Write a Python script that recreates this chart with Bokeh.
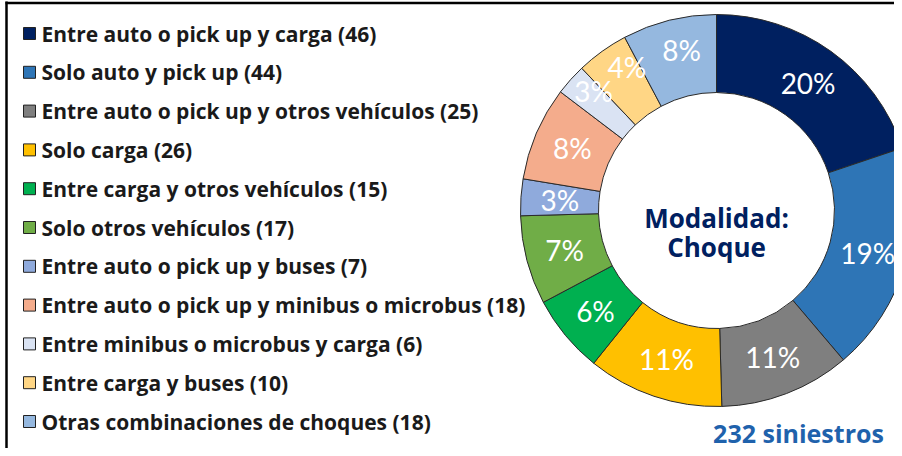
import math
from bokeh.plotting import figure
from bokeh.models import Range1d, ColumnDataSource
from bokeh.core.properties import value
from bokeh.embed import file_html
from bokeh.resources import INLINE

# ---- data ----
categories = [
    "Entre auto o pick up y carga",
    "Solo auto y pick up",
    "Entre auto o pick up y otros vehículos",
    "Solo carga",
    "Entre carga y otros vehículos",
    "Solo otros vehículos",
    "Entre auto o pick up y buses",
    "Entre auto o pick up y minibus o microbus",
    "Entre minibus o microbus y carga",
    "Entre carga y buses",
    "Otras combinaciones de choques",
]
counts = [46, 44, 25, 26, 15, 17, 7, 18, 6, 10, 18]
colors = ["#002060", "#2E75B6", "#7F7F7F", "#FFC000", "#00B050", "#70AD47",
          "#8FAADC", "#F4AC8C", "#DAE3F3", "#FFD685", "#95B8DF"]
center_title = ["Modalidad:", "Choque"]
total_label = "232 siniestros"

# label nudges (pixels) for crowded small slices
label_dx = [0, 0, 0, 0, 0, 0, 0, 0, -6, 2, 3]
label_dy = [0, 0, 0, 0, 0, 0, 0, 0, -15, -16, -8]

W, H = 894, 448
p = figure(width=W, height=H, output_backend="svg", toolbar_location=None,
           x_range=Range1d(0, W), y_range=Range1d(456 - H, 456),
           min_border=0, outline_line_color=None)
p.axis.visible = False
p.grid.visible = False
p.background_fill_color = "white"
p.border_fill_color = "white"

def Y(y_img):
    return 456 - y_img

# border lines (top and left)
p.line(x=[6, 6], y=[Y(1), Y(456)], line_color="black", line_width=2.5)
p.line(x=[5, 902], y=[Y(2.5), Y(2.5)], line_color="black", line_width=2.5)

# donut
cx, cy = 716, Y(210)
r_in, r_out = 118, 196
total = sum(counts)
starts, ends, lx, ly, labels = [], [], [], [], []
cum = 0
for c in counts:
    a0 = math.pi / 2 - 2 * math.pi * cum / total
    a1 = math.pi / 2 - 2 * math.pi * (cum + c) / total
    starts.append(a0)
    ends.append(a1)
    am = (a0 + a1) / 2
    rm = (r_in + r_out) / 2
    lx.append(cx + rm * math.cos(am))
    ly.append(cy + rm * math.sin(am))
    labels.append(f"{round(100 * c / total)}%")
    cum += c

src = ColumnDataSource(dict(start=starts, end=ends, color=colors, lx=lx, ly=ly,
                            label=labels, dx=label_dx, dy=label_dy))
p.annular_wedge(x=cx, y=cy, inner_radius=r_in, outer_radius=r_out,
                start_angle="start", end_angle="end", direction="clock",
                fill_color="color", line_color="#2a2a2a", line_width=1, source=src)
p.text(x="lx", y="ly", text="label", x_offset="dx", y_offset="dy", source=src,
       text_color="white", text_font=value("Lato"), text_font_size="28px",
       text_align="center", text_baseline="middle")

# center text
p.text(x=[cx, cx], y=[Y(217), Y(246)], text=center_title, text_color="#002060",
       text_font=value("Open Sans"), text_font_style="bold", text_font_size="26px",
       text_align="center", text_baseline="middle")
p.text(x=[798], y=[Y(432)], text=[total_label], text_color="#1F62AC",
       text_font=value("Open Sans"), text_font_style="bold", text_font_size="25px",
       text_align="center", text_baseline="middle")

# legend
rows_y = [Y(33 + i * 38.8) for i in range(len(categories))]
leg_text = [f"{c} ({n})" for c, n in zip(categories, counts)]
p.rect(x=[29] * len(categories), y=rows_y, width=12, height=12,
       width_units="screen", height_units="screen",
       fill_color=colors, line_color="#222222", line_width=1)
p.text(x=[41] * len(categories), y=rows_y, text=leg_text, text_color="#1a1a1a",
       text_font=value("Open Sans"), text_font_style="bold", text_font_size="21px",
       text_align="left", text_baseline="middle")

open("out.html", "w").write(file_html(p, INLINE))
